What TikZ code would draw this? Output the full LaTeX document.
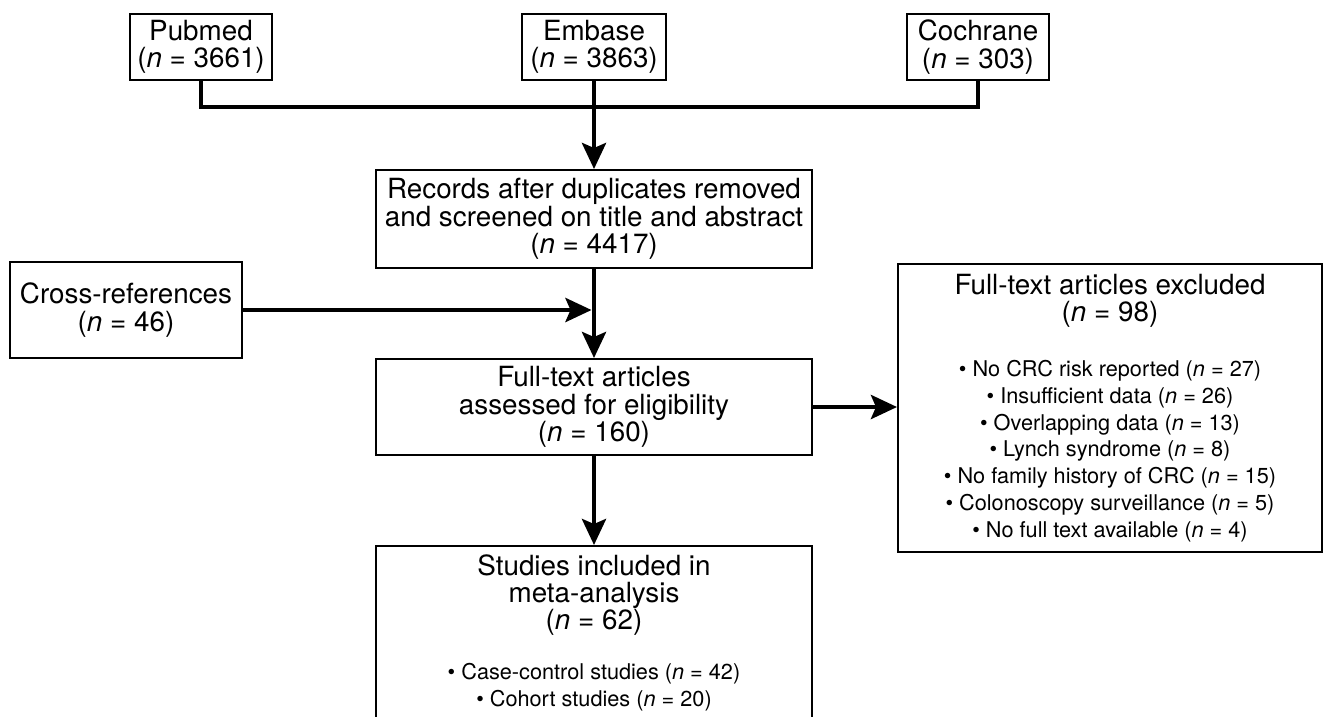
\documentclass[tikz,border=0pt]{standalone}
\usepackage{fontspec}
\setmainfont{TeX Gyre Heros}
\usetikzlibrary{arrows.meta,calc}
\tikzset{
  box/.style={draw, line width=2pt, align=center, inner sep=0pt,
    font=\fontsize{27.8}{27.6}\selectfont},
  txt/.style={align=center, inner sep=0pt, font=\fontsize{27.8}{27}\selectfont},
  blist/.style={align=center, inner sep=0pt, font=\fontsize{21.7}{26.8}\selectfont},
  conn/.style={line width=4.5pt},
  arr/.style={conn, -{Stealth[length=26pt,width=24pt,inset=5pt]}}
}
\newcommand{\nn}{\textit{n}}
\begin{document}
\begin{tikzpicture}[x=1pt,y=-1pt]
\useasboundingbox (0,0) rectangle (1324,716);
\clip (0,0) rectangle (1324,716);
% top sources
\node[box, minimum width=142pt, minimum height=66pt] (pub) at (201,47) {Pubmed\\(\nn{} = 3661)};
\node[box, minimum width=144pt, minimum height=66pt] (emb) at (594,47) {Embase\\(\nn{} = 3863)};
\node[box, minimum width=142pt, minimum height=66pt] (coc) at (978,47) {Cochrane\\(\nn{} = 303)};
% records
\node[box, minimum width=436pt, minimum height=98pt] (rec) at (594,219) {Records after duplicates removed\\and screened on title and abstract\\(\nn{} = 4417)};
% cross references
\node[box, minimum width=232pt, minimum height=96pt] (cross) at (126,310) {Cross-references\\(\nn{} = 46)};
% full text
\node[box, minimum width=436pt, minimum height=96pt] (full) at (594,407) {Full-text articles\\assessed for eligibility\\(\nn{} = 160)};
% excluded
\node[draw, line width=2pt, minimum width=424pt, minimum height=288pt, inner sep=0pt] (excl) at (1110,408) {};
\node[txt] (exT) at (1110,301) {Full-text articles excluded\\(\nn{} = 98)};
\node[blist] (exL) at (1110,451) {\textbullet{} No CRC risk reported (\nn{} = 27)\\
\textbullet{} Insufficient data (\nn{} = 26)\\
\textbullet{} Overlapping data (\nn{} = 13)\\
\textbullet{} Lynch syndrome (\nn{} = 8)\\
\textbullet{} No family history of CRC (\nn{} = 15)\\
\textbullet{} Colonoscopy surveillance (\nn{} = 5)\\
\textbullet{} No full text available (\nn{} = 4)};
% studies included
\node[draw, line width=2pt, minimum width=436pt, minimum height=220pt, inner sep=0pt] (stud) at (594,656) {};
\node[txt] (stT) at (594,595) {Studies included in\\meta-analysis\\(\nn{} = 62)};
\node[blist] (stL) at (594,687) {\textbullet{} Case-control studies (\nn{} = 42)\\
\textbullet{} Cohort studies (\nn{} = 20)};
% connectors
\coordinate (hl) at (594,107);
\draw[conn] (pub.south) |- (hl) -| (coc.south);
\draw[arr] (emb.south) -- (emb.south |- rec.north);
\coordinate (jn) at ($(cross.east -| rec.south)+(-2.5,0)$);
\draw[arr] (rec.south) -- (full.north);
\draw[arr] (cross.east) -- (jn);
\draw[arr] (full.east) -- (full.east -| excl.west);
\draw[arr] (full.south) -- (stud.north);
\end{tikzpicture}
\end{document}
